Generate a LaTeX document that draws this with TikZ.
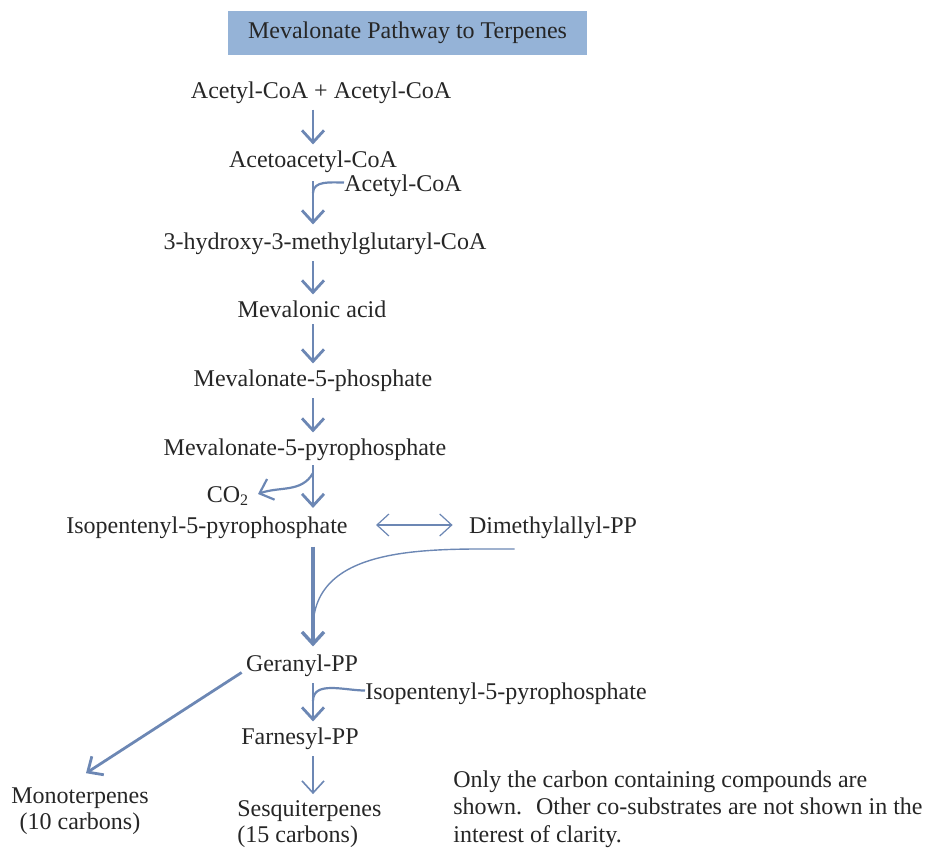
\documentclass[tikz,border=0pt]{standalone}
\usepackage{fontspec}
\setmainfont{Liberation Serif}
\usetikzlibrary{arrows.meta, positioning}
\definecolor{pathBlue}{RGB}{108, 135, 180}
\definecolor{titleBlue}{RGB}{149, 179, 215}
\tikzset{
    % Text Styles
    compound/.style={
        anchor=base,
        inner sep=0pt,
        font=\fontsize{12}{13}\selectfont,
        text=black!85
    },
    noteText/.style={compound, anchor=north west, align=left, font=\fontsize{12}{13.75}\selectfont},
    titleBox/.style={
        rectangle,
        fill=titleBlue,
        minimum width=179.5pt,
        minimum height=22pt,
        font=\fontsize{12}{13}\selectfont,
        text=black!85
    },
    % Arrow Styles
    mainArrow/.style={-{Straight Barb[length=6pt, width=11pt]}, line width=1.4pt, draw=pathBlue},
    bigArrow/.style={mainArrow, line width=1.7pt},
    sideArrow/.style={line width=1.1pt, draw=pathBlue},
    thinArrow/.style={-{Straight Barb[length=6pt, width=11pt]}, line width=0.8pt, draw=pathBlue},
    bothArrow/.style={{Straight Barb[length=6pt, width=11pt]}-{Straight Barb[length=6pt, width=11pt]}, line width=0.6pt, draw=pathBlue}
}

\begin{document}
\begin{tikzpicture}[x=0.5pt, y=-0.5pt]

    \useasboundingbox (0,0) rectangle (927,847);

    % --- Title ---
    \node (title) [titleBox] at (407.5,33) {Mevalonate Pathway to Terpenes};

    % --- Main Chain ---
    \coordinate (axis) at (313,0);
    \node (acetyl) [compound] at (321,98) {Acetyl-CoA + Acetyl-CoA};
    \node (acetoacetyl) [compound] at (313,167.5) {Acetoacetyl-CoA};
    \node (hmg) [compound] at (325,249.5) {3-hydroxy-3-methylglutaryl-CoA};
    \node (mevalonic) [compound] at (312,317.5) {Mevalonic acid};
    \node (mvp) [compound] at (313,386.5) {Mevalonate-5-phosphate};
    \node (mvpp) [compound] at (305,455.5) {Mevalonate-5-pyrophosphate};
    \node (ipp) [compound] at (207,533) {Isopentenyl-5-pyrophosphate};
    \node (dmapp) [compound] at (553,533) {Dimethylallyl-PP};
    \node (geranyl) [compound] at (302,671.5) {Geranyl-PP};
    \node (farnesyl) [compound] at (300,744.5) {Farnesyl-PP};

    % --- Side Substrates / Products ---
    \node (acetylSide) [compound, anchor=base west] at (344,191.5) {Acetyl-CoA};
    \node (co2) [compound] at (228,502) {CO\textsubscript{2}};
    \node (ippSide) [compound, anchor=base west] at (365,699.5) {Isopentenyl-5-pyrophosphate};

    % --- End Products ---
    \node (mono) [compound, anchor=center, align=center] at (80,811) {Monoterpenes\\(10 carbons)};
    \node (sesq) [compound, anchor=west, align=left] at (237,824) {Sesquiterpenes\\(15 carbons)};

    % --- Note ---
    \node (note) [noteText] at (453,770) {Only the carbon containing compounds are\\shown.~ Other co-substrates are not shown in the\\interest of clarity.};

    % --- Arrows (main chain) ---
    \draw [mainArrow] ([yshift=-3pt]acetyl.south -| axis) -- ([yshift=3pt]acetoacetyl.north -| axis);
    \draw [mainArrow] ([yshift=-4pt]acetoacetyl.south -| axis) -- ([yshift=4pt]hmg.north -| axis);
    \draw [mainArrow] ([yshift=-3pt]hmg.south -| axis) -- ([yshift=3pt]mevalonic.north -| axis);
    \draw [mainArrow] ([yshift=-3pt]mevalonic.south -| axis) -- ([yshift=3pt]mvp.north -| axis);
    \draw [mainArrow] ([yshift=-3pt]mvp.south -| axis) -- ([yshift=3pt]mvpp.north -| axis);
    \draw [mainArrow] ([yshift=-2pt]mvpp.south -| axis) -- ([yshift=4pt]ipp.north -| axis);
    \draw [bigArrow] ([yshift=-4pt]ipp.south -| axis) -- ([yshift=4pt]geranyl.north -| axis);
    \draw [mainArrow] ([yshift=-3pt]geranyl.south -| axis) -- ([yshift=3pt]farnesyl.north -| axis);
    \draw [thinArrow] ([yshift=-3pt]farnesyl.south -| axis) -- ([yshift=3pt]sesq.north -| axis);
    \draw [mainArrow] ([xshift=-2pt, yshift=-0.5pt]geranyl.base west) -- ([xshift=3pt, yshift=7pt]mono.north);

    % --- Joining and leaving substrates ---
    \draw [sideArrow] ([yshift=4.5pt]acetylSide.base west) to[out=180, in=90] ([yshift=-10pt]acetoacetyl.south -| axis);
    \draw [sideArrow] ([yshift=4.5pt]ippSide.base west) to[out=180, in=90] ([yshift=-12pt]geranyl.south -| axis);
    \draw [mainArrow, line width=1.1pt] ([yshift=-6pt]mvpp.south -| axis) to[out=-120, in=20] ([xshift=15pt, yshift=4pt]co2.base);
    \draw [bothArrow] ([xshift=14pt, yshift=4pt]ipp.base east) -- ([xshift=-8pt, yshift=4pt]dmapp.base west);
    \draw [sideArrow, line width=0.7pt] ([xshift=23pt, yshift=-8pt]dmapp.base west) to[out=180, in=90] ([yshift=-45pt]ipp.south -| axis);

\end{tikzpicture}
\end{document}
